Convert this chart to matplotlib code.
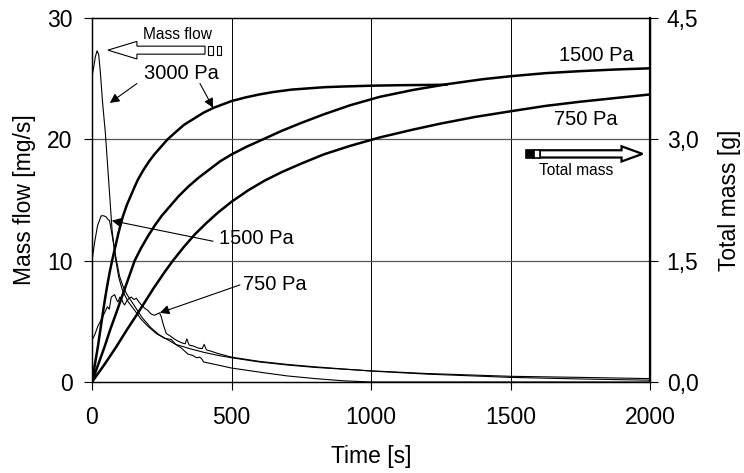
import numpy as np
import matplotlib.pyplot as plt
from matplotlib.patches import Rectangle

plt.rcParams['font.family'] = ['Liberation Sans', 'DejaVu Sans']

# mass flow [mg/s], thin lines
t_flow_3000 = [0, 5, 12, 18, 24, 30, 38, 48, 60, 72, 84, 96, 110, 130, 150, 175, 200, 230,
               260, 284, 300, 320, 344, 360, 375, 385, 392, 400, 420, 451, 500, 560, 620,
               700, 800, 900, 1000, 1500, 2000]
flow_3000 = [25.2, 25.8, 26.8, 27.3, 27.0, 25.5, 23.0, 20.5, 16.5, 12.5, 10.2, 8.6, 7.5,
             6.6, 6.0, 5.2, 4.6, 4.0, 3.6, 3.5, 3.1, 2.8, 2.3, 2.2, 2.0, 2.05, 1.95, 1.65,
             1.55, 1.4, 1.15, 0.95, 0.75, 0.5, 0.28, 0.1, 0.0, 0.0, 0.0]

t_flow_1500 = [0, 10, 20, 33, 42, 51, 57, 63, 75, 87, 99, 111, 123, 140, 160, 180, 210,
               240, 270, 300, 350, 400, 450, 500, 600, 700, 800, 1000, 1200, 1500, 1750, 2000]
flow_1500 = [10.0, 11.6, 12.9, 13.7, 13.7, 13.6, 13.4, 13.3, 11.7, 10.1, 8.7, 7.9, 7.3,
             6.7, 6.0, 5.3, 4.5, 3.9, 3.5, 3.1, 2.75, 2.45, 2.2, 2.0, 1.65, 1.4, 1.2, 0.92,
             0.7, 0.47, 0.38, 0.28]

t_flow_750 = [0, 10, 21, 30, 45, 55, 62, 69, 75, 81, 88, 93, 100, 105, 112, 117, 125, 133,
              141, 150, 159, 168, 177, 188, 200, 212, 224, 233, 242, 248, 256, 266, 280,
              295, 310, 325, 334, 340, 348, 365, 380, 395, 402, 410, 425, 451, 500, 600,
              700, 800, 1000, 1200, 1500, 1750, 2000]
flow_750 = [3.45, 3.9, 4.6, 5.0, 5.7, 6.2, 6.0, 7.0, 7.1, 7.2, 6.8, 6.6, 7.0, 6.9, 6.5,
            6.35, 6.7, 6.9, 7.0, 6.8, 6.9, 6.6, 6.35, 6.1, 5.9, 5.6, 5.5, 5.6, 5.7, 5.4,
            4.7, 4.0, 3.8, 3.55, 3.35, 3.2, 3.15, 3.55, 3.05, 2.95, 2.8, 2.75, 3.1, 2.65,
            2.55, 2.35, 2.05, 1.7, 1.45, 1.25, 0.9, 0.65, 0.38, 0.25, 0.15]

# total mass [g], thick lines
t_mass_3000 = [0, 10, 21, 30, 39, 47, 55, 63, 72, 82, 95, 110, 125, 140, 155, 165, 185,
               205, 225, 250, 271, 300, 330, 358, 400, 436, 500, 550, 600, 650, 716, 775,
               835, 900, 1000, 1100, 1270]
mass_3000 = [0, 0.21, 0.435, 0.645, 0.855, 1.035, 1.2, 1.35, 1.5, 1.65, 1.845, 2.04, 2.19,
             2.31, 2.43, 2.505, 2.625, 2.73, 2.82, 2.918, 3.0, 3.09, 3.18, 3.24, 3.33, 3.39,
             3.473, 3.518, 3.555, 3.585, 3.615, 3.63, 3.645, 3.653, 3.663, 3.669, 3.675]

t_mass_1500 = [0, 20, 45, 65, 87, 110, 130, 153, 175, 200, 225, 250, 280, 310, 345, 380,
               420, 460, 500, 555, 613, 680, 750, 830, 924, 1031, 1150, 1275, 1400, 1500,
               1625, 1750, 1875, 2000]
mass_1500 = [0, 0.195, 0.435, 0.645, 0.855, 1.08, 1.275, 1.5, 1.65, 1.8, 1.935, 2.055,
             2.175, 2.295, 2.415, 2.52, 2.625, 2.73, 2.813, 2.91, 3.0, 3.105, 3.203, 3.308,
             3.42, 3.525, 3.61, 3.683, 3.743, 3.78, 3.818, 3.843, 3.863, 3.878]

t_mass_750 = [0, 45, 87, 125, 165, 220, 260, 290, 330, 370, 410, 451, 500, 560, 619, 680,
              750, 830, 924, 1031, 1150, 1250, 1375, 1497, 1625, 1750, 1875, 2000]
mass_750 = [0, 0.218, 0.435, 0.645, 0.855, 1.155, 1.358, 1.5, 1.673, 1.83, 1.965, 2.093,
            2.228, 2.37, 2.49, 2.595, 2.7, 2.813, 2.918, 3.023, 3.12, 3.195, 3.278, 3.345,
            3.413, 3.465, 3.51, 3.555]

left_ticks = [0, 10, 20, 30]
right_ticks = [0, 1.5, 3.0, 4.5]
right_labels = ['0,0', '1,5', '3,0', '4,5']
x_ticks = [0, 500, 1000, 1500, 2000]

fig = plt.figure(figsize=(7.44, 4.73), dpi=100)
ax = fig.add_axes([92 / 744, 1 - 382 / 473, 558 / 744, 364 / 473])
ax2 = ax.twinx()

ax.plot(t_flow_3000, flow_3000, color='k', lw=0.8)
ax.plot(t_flow_1500, flow_1500, color='k', lw=0.8)
ax.plot(t_flow_750, flow_750, color='k', lw=0.8)

for t, m in [(t_mass_3000, mass_3000), (t_mass_1500, mass_1500), (t_mass_750, mass_750)]:
    ax2.plot(t, m, color='k', lw=1.8, solid_joinstyle='round')

ax.set_xlim(0, 2000)
ax.set_ylim(0, 30)
ax2.set_ylim(0, 4.5)
ax.set_xticks(x_ticks)
ax.set_yticks(left_ticks)
ax2.set_yticks(right_ticks)
ax2.set_yticklabels(right_labels)

for x in [500, 1000, 1500]:
    ax.axvline(x, color='k', lw=0.7, zorder=0)
for y in [10, 20]:
    ax.axhline(y, color='#555555', lw=0.9, zorder=0)

for a in (ax, ax2):
    a.tick_params(direction='out', length=6, width=0.8, labelsize=16.5, colors='k')
    for s in a.spines.values():
        s.set_linewidth(0.9)
ax2.spines['right'].set_linewidth(1.6)
ax.tick_params(axis='x', pad=11)
ax.tick_params(axis='y', pad=8)
ax2.tick_params(axis='y', pad=6)

ax.set_xlabel('Time [s]', fontsize=16.5, labelpad=12)
ax.set_ylabel('Mass flow [mg/s]', fontsize=16.5, labelpad=8)
ax2.set_ylabel('Total mass [g]', fontsize=16.5, labelpad=14)

arr = dict(arrowstyle='-|>', color='k', lw=0.8, mutation_scale=14, shrinkA=0, shrinkB=0)
ax.text(319, 25.4, '3000 Pa', fontsize=14.5, ha='center', va='center')
ax.annotate('', xy=(64, 23.0), xytext=(161, 24.6), arrowprops=arr)
ax.annotate('', xy=(434, 22.6), xytext=(387, 24.6), arrowprops=arr)
ax.text(455, 11.8, '1500 Pa', fontsize=14.5, ha='left', va='center')
ax.annotate('', xy=(71, 13.3), xytext=(434, 11.6), arrowprops=arr)
ax.text(543, 8.0, '750 Pa', fontsize=14.5, ha='left', va='center')
ax.annotate('', xy=(243, 5.7), xytext=(530, 8.0), arrowprops=arr)
ax.text(1808, 26.9, '1500 Pa', fontsize=14.5, ha='center', va='center')
ax.text(1769, 21.6, '750 Pa', fontsize=14.5, ha='center', va='center')

# hollow "Mass flow" arrow pointing left
ax.arrow(405, 27.35, -348, 0, width=0.66, head_width=1.45, head_length=104,
         length_includes_head=True, fc='white', ec='k', lw=0.8, zorder=5)
ax.add_patch(Rectangle((416, 26.95), 18, 0.75, fc='white', ec='k', lw=0.8, zorder=5))
ax.add_patch(Rectangle((448, 26.95), 16, 0.75, fc='white', ec='k', lw=0.8, zorder=5))
ax.text(305, 28.6, 'Mass flow', fontsize=11.2, ha='center', va='center')

# "Total mass" arrow pointing right
ax.arrow(1604, 18.8, 369, 0, width=0.6, head_width=1.25, head_length=75,
         length_includes_head=True, fc='white', ec='k', lw=1.6, zorder=5)
ax.add_patch(Rectangle((1557, 18.5), 28, 0.6, fc='k', ec='k', lw=1.2, zorder=5))
ax.add_patch(Rectangle((1585, 18.5), 19, 0.6, fc='white', ec='k', lw=1.2, zorder=5))
ax.text(1736, 17.4, 'Total mass', fontsize=11.2, ha='center', va='center')

fig.savefig('out.png', dpi=100)
